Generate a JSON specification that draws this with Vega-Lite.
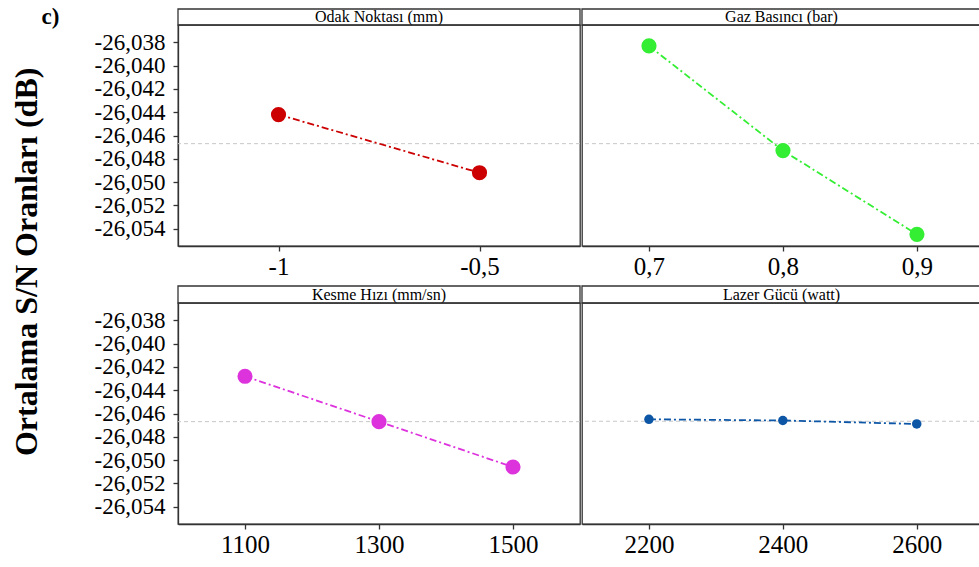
{
  "$schema": "https://vega.github.io/schema/vega-lite/v6.json",
  "background": "white",
  "padding": {"left": 10, "top": 6, "right": 0, "bottom": 0},
  "config": {
    "font": "Liberation Serif",
    "locale": {"number": {"decimal": ",", "thousands": ".", "grouping": [3], "currency": ["", ""], "minus": "-"}},
    "view": {"stroke": "#333333", "strokeWidth": 1.3},
    "axis": {"grid": false, "domainColor": "#333333", "tickColor": "#333333", "labelColor": "black", "labelFont": "Liberation Serif", "domainWidth": 1.3, "tickWidth": 1.3, "tickSize": 5, "title": null, "labelOverlap": false, "tickCount": 30},
    "axisX": {"labelFontSize": 25, "labelPadding": 3, "labelFont": "Liberation Serif"},
    "axisY": {"labelFontSize": 23, "labelPadding": 8, "labelFont": "Liberation Serif"},
    "text": {"font": "Liberation Serif"},
    "title": {"font": "Liberation Serif", "color": "black"}
  },
  "title": {"text": "Ortalama S/N Oranları (dB)", "orient": "left", "anchor": "middle", "fontSize": 32, "fontWeight": "bold", "offset": -2, "dx": 20},
  "datasets": {
    "main": [
      {"panel": "odak", "x": -1, "sn": -26.0442},
      {"panel": "odak", "x": -0.5, "sn": -26.0492},
      {"panel": "gaz", "x": 0.7, "sn": -26.0383},
      {"panel": "gaz", "x": 0.8, "sn": -26.0473},
      {"panel": "gaz", "x": 0.9, "sn": -26.0545},
      {"panel": "kesme", "x": 1100, "sn": -26.0428},
      {"panel": "kesme", "x": 1300, "sn": -26.0467},
      {"panel": "kesme", "x": 1500, "sn": -26.0506},
      {"panel": "lazer", "x": 2200, "sn": -26.0465},
      {"panel": "lazer", "x": 2400, "sn": -26.0466},
      {"panel": "lazer", "x": 2600, "sn": -26.0469}
    ],
    "strips": [
      {"panel": "odak", "label": "Odak Noktası (mm)"},
      {"panel": "gaz", "label": "Gaz Basıncı (bar)"},
      {"panel": "kesme", "label": "Kesme Hızı (mm/sn)"},
      {"panel": "lazer", "label": "Lazer Gücü (watt)"}
    ]
  },
  "spacing": 5,
  "vconcat": [
    {
      "spacing": -3,
      "hconcat": [
        {
          "spacing": 0,
          "bounds": "flush",
          "vconcat": [
            {
              "width": 402, "height": 16,
              "data": {"name": "strips"},
              "transform": [{"filter": "datum.panel == 'odak'"}],
              "title": {"text": "c)", "orient": "left", "angle": 0, "align": "right", "baseline": "middle", "anchor": "middle", "fontSize": 23, "fontWeight": "bold", "offset": 100},
              "layer": [
                {"mark": {"type": "rect", "fill": "white", "stroke": "#333333", "strokeWidth": 1.3}},
                {"mark": {"type": "text", "fontSize": 16, "color": "black", "baseline": "middle", "font": "Liberation Serif"},
                 "encoding": {"text": {"field": "label", "type": "nominal"}}}
              ]
            },
            {
              "width": 402, "height": 221,
              "data": {"name": "main"},
              "transform": [{"filter": "datum.panel == 'odak'"}],
              "layer": [
                {"mark": {"type": "rule", "color": "#c8c8c8", "strokeDash": [4, 3], "strokeWidth": 1},
                 "encoding": {"y": {"aggregate": "mean", "field": "sn", "type": "quantitative", "scale": {"domain": [-26.0555, -26.0365], "nice": false, "zero": false},
                   "axis": {"values": [-26.038, -26.04, -26.042, -26.044, -26.046, -26.048, -26.05, -26.052, -26.054], "format": ".3f", "tickCount": 30}}}},
                {"mark": {"type": "line", "color": "#cc0000", "strokeDash": [7, 3, 2, 3], "strokeWidth": 1.8},
                 "encoding": {"x": {"field": "x", "type": "quantitative", "scale": {"domain": [-1.25, -0.25], "nice": false, "zero": false}, "axis": {"values": [-1, -0.5], "format": ".1~f"}},
                   "y": {"field": "sn", "type": "quantitative"}}},
                {"mark": {"type": "point", "filled": true, "size": 230, "color": "#cc0000", "opacity": 1},
                 "encoding": {"x": {"field": "x", "type": "quantitative"}, "y": {"field": "sn", "type": "quantitative"}}}
              ]
            }
          ]
        },
        {
          "spacing": 0,
          "bounds": "flush",
          "vconcat": [
            {
              "width": 399, "height": 16,
              "data": {"name": "strips"},
              "transform": [{"filter": "datum.panel == 'gaz'"}],
              "layer": [
                {"mark": {"type": "rect", "fill": "white", "stroke": "#333333", "strokeWidth": 1.3}},
                {"mark": {"type": "text", "fontSize": 16, "color": "black", "baseline": "middle", "font": "Liberation Serif"},
                 "encoding": {"text": {"field": "label", "type": "nominal"}}}
              ]
            },
            {
              "width": 399, "height": 221,
              "data": {"name": "main"},
              "transform": [{"filter": "datum.panel == 'gaz'"}],
              "layer": [
                {"mark": {"type": "rule", "color": "#c8c8c8", "strokeDash": [4, 3], "strokeWidth": 1},
                 "encoding": {"y": {"aggregate": "mean", "field": "sn", "type": "quantitative", "scale": {"domain": [-26.0555, -26.0365], "nice": false, "zero": false}, "axis": null}}},
                {"mark": {"type": "line", "color": "#33ee33", "strokeDash": [7, 3, 2, 3], "strokeWidth": 1.8},
                 "encoding": {"x": {"field": "x", "type": "quantitative", "scale": {"domain": [0.65, 0.9478], "nice": false, "zero": false}, "axis": {"values": [0.7, 0.8, 0.9], "format": ".1f"}},
                   "y": {"field": "sn", "type": "quantitative", "axis": null}}},
                {"mark": {"type": "point", "filled": true, "size": 230, "color": "#33ee33", "opacity": 1},
                 "encoding": {"x": {"field": "x", "type": "quantitative"}, "y": {"field": "sn", "type": "quantitative", "axis": null}}}
              ]
            }
          ]
        }
      ]
    },
    {
      "spacing": -3,
      "hconcat": [
        {
          "spacing": 0,
          "bounds": "flush",
          "vconcat": [
            {
              "width": 402, "height": 17,
              "data": {"name": "strips"},
              "transform": [{"filter": "datum.panel == 'kesme'"}],
              "layer": [
                {"mark": {"type": "rect", "fill": "white", "stroke": "#333333", "strokeWidth": 1.3}},
                {"mark": {"type": "text", "fontSize": 16, "color": "black", "baseline": "middle", "font": "Liberation Serif"},
                 "encoding": {"text": {"field": "label", "type": "nominal"}}}
              ]
            },
            {
              "width": 402, "height": 221,
              "data": {"name": "main"},
              "transform": [{"filter": "datum.panel == 'kesme'"}],
              "layer": [
                {"mark": {"type": "rule", "color": "#c8c8c8", "strokeDash": [4, 3], "strokeWidth": 1},
                 "encoding": {"y": {"aggregate": "mean", "field": "sn", "type": "quantitative", "scale": {"domain": [-26.0555, -26.0365], "nice": false, "zero": false},
                   "axis": {"values": [-26.038, -26.04, -26.042, -26.044, -26.046, -26.048, -26.05, -26.052, -26.054], "format": ".3f", "tickCount": 30}}}},
                {"mark": {"type": "line", "color": "#dd33dd", "strokeDash": [7, 3, 2, 3], "strokeWidth": 1.8},
                 "encoding": {"x": {"field": "x", "type": "quantitative", "scale": {"domain": [1000, 1600], "nice": false, "zero": false}, "axis": {"values": [1100, 1300, 1500], "format": "d"}},
                   "y": {"field": "sn", "type": "quantitative"}}},
                {"mark": {"type": "point", "filled": true, "size": 230, "color": "#dd33dd", "opacity": 1},
                 "encoding": {"x": {"field": "x", "type": "quantitative"}, "y": {"field": "sn", "type": "quantitative"}}}
              ]
            }
          ]
        },
        {
          "spacing": 0,
          "bounds": "flush",
          "vconcat": [
            {
              "width": 399, "height": 17,
              "data": {"name": "strips"},
              "transform": [{"filter": "datum.panel == 'lazer'"}],
              "layer": [
                {"mark": {"type": "rect", "fill": "white", "stroke": "#333333", "strokeWidth": 1.3}},
                {"mark": {"type": "text", "fontSize": 16, "color": "black", "baseline": "middle", "font": "Liberation Serif"},
                 "encoding": {"text": {"field": "label", "type": "nominal"}}}
              ]
            },
            {
              "width": 399, "height": 221,
              "data": {"name": "main"},
              "transform": [{"filter": "datum.panel == 'lazer'"}],
              "layer": [
                {"mark": {"type": "rule", "color": "#c8c8c8", "strokeDash": [4, 3], "strokeWidth": 1},
                 "encoding": {"y": {"aggregate": "mean", "field": "sn", "type": "quantitative", "scale": {"domain": [-26.0555, -26.0365], "nice": false, "zero": false}, "axis": null}}},
                {"mark": {"type": "line", "color": "#0d56a6", "strokeDash": [7, 3, 2, 3], "strokeWidth": 1.8},
                 "encoding": {"x": {"field": "x", "type": "quantitative", "scale": {"domain": [2100, 2696], "nice": false, "zero": false}, "axis": {"values": [2200, 2400, 2600], "format": "d"}},
                   "y": {"field": "sn", "type": "quantitative", "axis": null}}},
                {"mark": {"type": "point", "filled": true, "size": 90, "color": "#0d56a6", "opacity": 1},
                 "encoding": {"x": {"field": "x", "type": "quantitative"}, "y": {"field": "sn", "type": "quantitative", "axis": null}}}
              ]
            }
          ]
        }
      ]
    }
  ]
}
